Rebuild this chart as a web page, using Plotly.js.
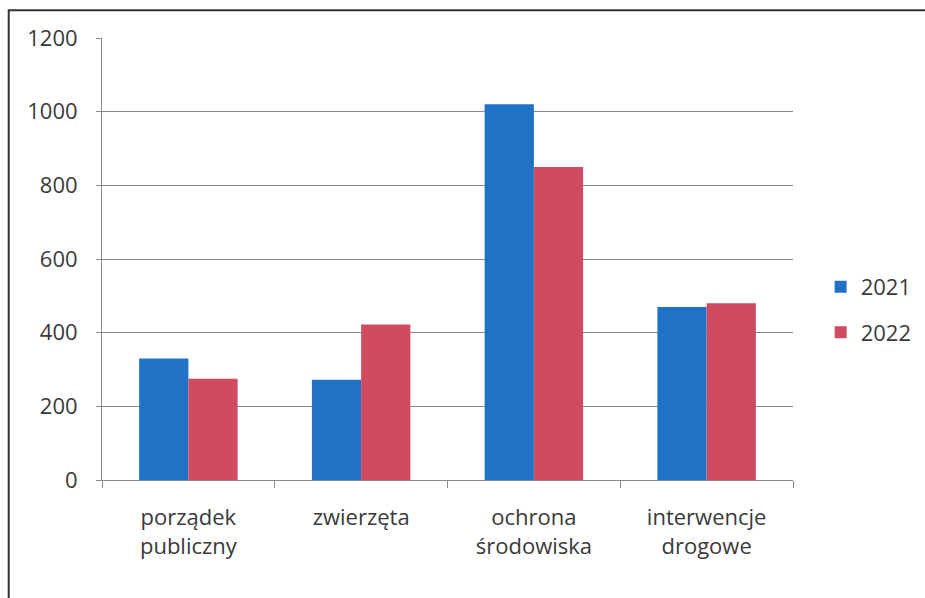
<!DOCTYPE html>
<html>
<head>
<meta charset="utf-8">
<script src="https://cdn.plot.ly/plotly-3.0.1.min.js"></script>
<style>html,body{margin:0;padding:0;background:#fff;}#chart{width:925px;height:598px;}</style>
</head>
<body>
<div id="chart"></div>
<script>
var categories = ["porządek<br>publiczny", "zwierzęta", "ochrona<br>środowiska", "interwencje<br>drogowe"];
var values2021 = [330, 272, 1020, 470];
var values2022 = [275, 422, 850, 480];
var seriesNames = ["2021", "2022"];
var yTicks = [0, 200, 400, 600, 800, 1000, 1200];

var font = {family: "'Open Sans', Lato, sans-serif", size: 22, color: "#3a3a3a"};

var traces = [
  {type: "bar", name: seriesNames[0], x: categories, y: values2021,
   marker: {color: "#1f72c6"}, legendgroup: "a"},
  {type: "bar", name: seriesNames[1], x: categories, y: values2022,
   marker: {color: "#cf4b60"}, legendgroup: "b"}
];

var layout = {
  width: 925, height: 598,
  margin: {l: 102, r: 132, t: 38, b: 118, autoexpand: false},
  paper_bgcolor: "#fff", plot_bgcolor: "#fff",
  font: font,
  barmode: "group", bargap: 0.43, bargroupgap: 0,
  showlegend: true,
  legend: {x: 1.04, xanchor: "left", y: 0.385, yanchor: "middle",
           font: font, traceorder: "grouped", tracegroupgap: 14,
           bgcolor: "rgba(0,0,0,0)"},
  xaxis: {type: "category", tickson: "boundaries", ticks: "outside", ticklen: 7,
          tickcolor: "#8a8a8a", showline: true, linecolor: "#8a8a8a", linewidth: 1,
          showgrid: false, tickfont: font, ticklabelstandoff: 18, automargin: false,
          fixedrange: true},
  yaxis: {range: [0, 1200], tickvals: yTicks, ticks: "outside", ticklen: 5,
          tickcolor: "#8a8a8a", showline: true, linecolor: "#8a8a8a", linewidth: 1,
          showgrid: true, gridcolor: "#8a8a8a", gridwidth: 1, zeroline: false,
          tickfont: font, ticklabelstandoff: 14, automargin: false, fixedrange: true},
  shapes: [{type: "rect", xref: "paper", yref: "paper",
            x0: -0.135, x1: 1.3, y0: -0.4, y1: 1.063,
            line: {color: "#333", width: 2}}]
};

Plotly.newPlot("chart", traces, layout, {displayModeBar: false, staticPlot: true});
</script>
</body>
</html>
